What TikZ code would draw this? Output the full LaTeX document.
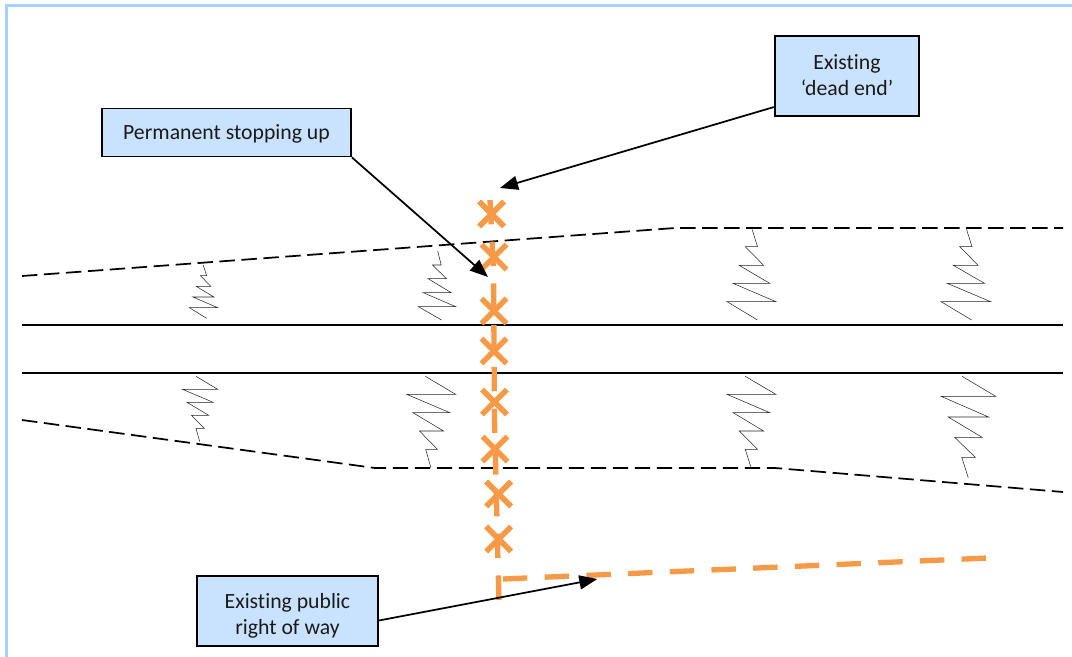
\documentclass[tikz,border=0pt]{standalone}
\usepackage{fontspec}
\setmainfont[Ligatures=NoCommon]{Carlito}
\usetikzlibrary{arrows.meta}
\definecolor{frameblue}{HTML}{A9D1FF}
\definecolor{boxblue}{HTML}{C9E3FF}
\definecolor{roworange}{HTML}{F79A48}
\definecolor{labelink}{HTML}{1A1A1A}
\tikzset{
  framing/.style={draw=frameblue,line width=1.6pt},
  roadedge/.style={draw=black,line width=1.3pt},
  verge/.style={draw=black,line width=1.3pt,dash pattern=on 11.6pt off 4.9pt,line join=round},
  zig/.style={draw=black!85,line width=0.4pt,line join=miter},
  zoomL/.style={x=0.2583pt,y=-0.25pt,yshift=-150pt},
  zoomR/.style={x=0.2545pt,y=-0.25pt,xshift=405pt,yshift=-150pt},
  row/.style={draw=roworange,line width=4pt,dash pattern=on 18.3pt off 13pt},
  crossmark/.style={draw=roworange,line width=4.2pt},
  callout/.style={draw=black,line width=1.3pt,fill=boxblue,text=labelink,inner sep=0pt,align=center,font=\fontsize{16.3}{19.5}\selectfont},
  pointer/.style={draw=black,line width=1.3pt,-{Triangle[length=13.5pt,width=10.5pt]},shorten >=0pt}
}
\begin{document}
\begin{tikzpicture}[x=0.75pt,y=-0.75pt]
\useasboundingbox (0,0) rectangle (1072,657);
\path[fill=white] (0,0) rectangle (1072,657);
\draw[framing] (6.5,657) -- (6.5,5.5) -- (1072,5.5);
% road
\draw[roadedge] (22,324.9) -- (1063,324.9);
\draw[roadedge] (22,372.9) -- (1063,372.9);
\draw[verge] (22,276) -- (675,228) -- (1063,228);
\draw[verge] (22,420) -- (375,468) -- (775,468) -- (1063,492);
% embankment zigzags
\begin{scope}[zoomL]
\draw[zig] (590,195)--(600,227)--(582,227)--(612,259)--(570,259)--(621,291)--(560,291)--(632,323)--(550,323)--(600,355);
\draw[zig] (1271,153)--(1281,195)--(1256,195)--(1296,236)--(1243,236)--(1310,278)--(1229,278)--(1323,320)--(1215,320)--(1282,360);
\draw[zig] (569,529)--(632,568)--(530,568)--(619,607)--(543,607)--(606,646)--(556,646)--(593,685)--(569,685)--(580,725);
\draw[zig] (1235,529)--(1323,583)--(1181,583)--(1306,638)--(1199,638)--(1288,693)--(1218,693)--(1270,748)--(1236,748)--(1251,803);
\end{scope}
\begin{scope}[zoomR]
\draw[zig] (625,88)--(641,140)--(605,140)--(659,196)--(587,196)--(677,250)--(569,250)--(695,305)--(551,305)--(641,360);
\draw[zig] (1257,88)--(1273,140)--(1237,140)--(1291,196)--(1218,196)--(1310,250)--(1200,250)--(1328,305)--(1182,305)--(1272,360);
\draw[zig] (605,529)--(695,583)--(551,583)--(677,638)--(569,638)--(659,693)--(587,693)--(641,748)--(605,748)--(622,803);
\draw[zig] (1244,529)--(1343,589)--(1182,589)--(1322,651)--(1203,651)--(1303,712)--(1222,712)--(1283,772)--(1243,772)--(1262,833);
\end{scope}
% public right of way
\draw[row] (490,200) -- (493.5,270) -- (494.5,420) -- (499,603);
\draw[row] (503,579) -- (988,558);
\foreach \cx/\cy in {491.7/214,494/257,494/311,494/351,494.5/402,495/449,498.7/494,498.7/539}{
  \draw[crossmark] (\cx-12.5,\cy-12.5) -- (\cx+12.5,\cy+12.5);
  \draw[crossmark] (\cx-12.5,\cy+12.5) -- (\cx+12.5,\cy-12.5);
}
% labels
\node[callout,minimum width=186.75pt,minimum height=36pt] (b1) at (226.5,132.5) {\rule{0pt}{13.5pt}Permanent stopping up};
\node[callout,minimum width=108.5pt,minimum height=60pt] (b2) at (847,76) {Existing\\‘dead end’\rule[-2.2pt]{0pt}{2.2pt}};
\node[callout,minimum width=135.3pt,minimum height=52.7pt] (b3) at (287.5,611) {\rule{0pt}{18pt}Existing public\\right of way};
\coordinate (t1) at (488,277);
\coordinate (t2) at (500,188);
\coordinate (t3) at (597.3,579);
\draw[pointer] (b1.south east) -- (t1);
\draw[pointer] (b2.203.9) -- (t2);
\draw[pointer] (b3.-6.1) -- (t3);
\end{tikzpicture}
\end{document}
